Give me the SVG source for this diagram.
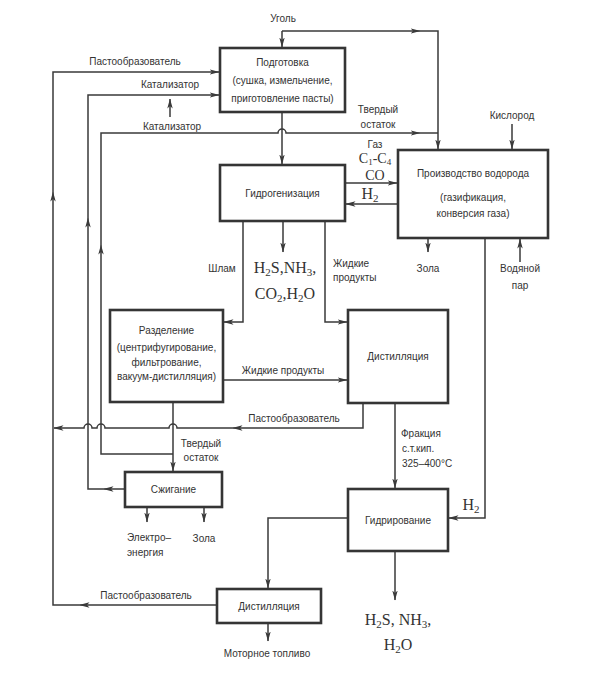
<svg xmlns="http://www.w3.org/2000/svg" width="596" height="676" viewBox="0 0 596 676">
<style>
.bg{fill:#fff}
.box{fill:#fff;stroke:#353535;stroke-width:2.6}
.ln{fill:none;stroke:#3a3a3a;stroke-width:1.5}
.ar{marker-end:url(#ah)}
.t{font-family:"Liberation Sans",Arial,sans-serif;font-size:10px;fill:#333;text-anchor:middle}
.l{text-anchor:start}
.f{font-family:"Liberation Serif","Times New Roman",serif;font-size:16px;fill:#333;text-anchor:middle}
.g{font-size:14px}
.s{font-size:11px}
.ss{font-size:9px}
</style>
<defs>
<marker id="ah" viewBox="0 0 10 6" refX="9.5" refY="3" markerWidth="10" markerHeight="6" orient="auto" markerUnits="userSpaceOnUse">
<path d="M0,0.3 L10,3 L0,5.7 L2.5,3 Z" fill="#3a3a3a"/>
</marker>
</defs>
<rect class="bg" x="0" y="0" width="596" height="676"/>

<g id="connectors">
<path class="ln ar" d="M282,31 L282,47"/>
<path class="ln ar" d="M282,31 L420,31"/>
<path class="ln ar" d="M420,31 L438,31 L438,149"/>
<path class="ln ar" d="M217,605 L80,605"/>
<path class="ln ar" d="M80,605 L53,605 L53,192"/>
<path class="ln ar" d="M53,192 L53,72 L219,72"/>
<path class="ln ar" d="M125,489 L104,489"/>
<path class="ln ar" d="M104,489 L88,489 L88,218"/>
<path class="ln ar" d="M88,218 L88,95 L219,95"/>
<path class="ln ar" d="M170,117 L170,99"/>
<path class="ln ar" d="M173,402 L173,471"/>
<path class="ln ar" d="M173,454 L101,454 L101,245"/>
<path class="ln ar" d="M101,245 L101,133 L278,133 A4,4 0 0 1 286,133 L420,133"/>
<path class="ln" d="M420,133 L438,133"/>
<path class="ln ar" d="M363,403 L363,428 L233,428"/>
<path class="ln ar" d="M233,428 L177,428 A4,4 0 0 0 169,428 L105,428 A4,4 0 0 0 97,428 L92,428 A4,4 0 0 0 84,428 L54,428"/>
<path class="ln ar" d="M282,112 L282,164"/>
<path class="ln ar" d="M345,183 L397,183"/>
<path class="ln ar" d="M398,204 L346,204"/>
<path class="ln ar" d="M512,124 L512,149"/>
<path class="ln ar" d="M428,238 L428,252"/>
<path class="ln ar" d="M520,262 L520,239"/>
<path class="ln ar" d="M485,238 L485,518 L449,518"/>
<path class="ln ar" d="M243,221 L243,322 L224,322"/>
<path class="ln ar" d="M283,221 L283,252"/>
<path class="ln ar" d="M325,221 L325,322 L347,322"/>
<path class="ln ar" d="M223,380 L347,380"/>
<path class="ln ar" d="M395,403 L395,488"/>
<path class="ln ar" d="M395,551 L395,600"/>
<path class="ln ar" d="M348,518 L268,518 L268,588"/>
<path class="ln ar" d="M268,623 L268,641"/>
<path class="ln ar" d="M147,507 L147,522"/>
<path class="ln ar" d="M204,507 L204,522"/>
</g>

<g id="n-podgotovka">
<rect class="box" x="220" y="48" width="125" height="64"/>
<text class="t" x="282.5" y="66">Подготовка</text>
<text class="t" x="282.5" y="84">(сушка, измельчение,</text>
<text class="t" x="282.5" y="102">приготовление пасты)</text>
</g>
<g id="n-gidrogenizaciya">
<rect class="box" x="220" y="165" width="125" height="56"/>
<text class="t" x="282.5" y="197">Гидрогенизация</text>
</g>
<g id="n-proizvodstvo">
<rect class="box" x="398" y="150" width="150" height="88"/>
<text class="t" x="473" y="177">Производство водорода</text>
<text class="t" x="473" y="201">(газификация,</text>
<text class="t" x="473" y="217">конверсия газа)</text>
</g>
<g id="n-razdelenie">
<rect class="box" x="110" y="310" width="113" height="92"/>
<text class="t" x="166.5" y="334">Разделение</text>
<text class="t" x="166.5" y="351">(центрифугирование,</text>
<text class="t" x="166.5" y="366">фильтрование,</text>
<text class="t" x="166.5" y="380">вакуум-дистилляция)</text>
</g>
<g id="n-distillyaciya1">
<rect class="box" x="348" y="310" width="100" height="93"/>
<text class="t" x="398" y="360">Дистилляция</text>
</g>
<g id="n-szhiganie">
<rect class="box" x="125" y="472" width="97" height="35"/>
<text class="t" x="173.5" y="493">Сжигание</text>
</g>
<g id="n-gidrirovanie">
<rect class="box" x="348" y="489" width="100" height="62"/>
<text class="t" x="398" y="524">Гидрирование</text>
</g>
<g id="n-distillyaciya2">
<rect class="box" x="217" y="589" width="104" height="34"/>
<text class="t" x="269" y="610">Дистилляция</text>
</g>

<g id="labels">
<text class="t" x="283" y="22">Уголь</text>
<text class="t" x="135" y="65">Пастообразователь</text>
<text class="t" x="170" y="88">Катализатор</text>
<text class="t" x="172" y="130">Катализатор</text>
<text class="t" x="378" y="113">Твердый</text>
<text class="t" x="378" y="128">остаток</text>
<text class="t" x="512" y="119">Кислород</text>
<text class="t" x="375" y="148">Газ</text>
<text class="f g" x="375" y="163">C<tspan class="ss" dy="2">1</tspan><tspan dy="-2">-C</tspan><tspan class="ss" dy="2">4</tspan></text>
<text class="f g" x="375" y="180">CO</text>
<text class="f" x="370" y="199">H<tspan class="s" dy="3">2</tspan></text>
<text class="t" x="428" y="272">Зола</text>
<text class="t" x="520" y="272">Водяной</text>
<text class="t" x="520" y="289">пар</text>
<text class="t" x="222" y="272">Шлам</text>
<text class="f" x="285" y="273">H<tspan class="s" dy="3">2</tspan><tspan dy="-3">S,NH</tspan><tspan class="s" dy="3">3</tspan><tspan dy="-3">,</tspan></text>
<text class="f" x="285" y="299">CO<tspan class="s" dy="3">2</tspan><tspan dy="-3">,H</tspan><tspan class="s" dy="3">2</tspan><tspan dy="-3">O</tspan></text>
<text class="t l" x="333" y="267">Жидкие</text>
<text class="t l" x="333" y="281">продукты</text>
<text class="t" x="283" y="374">Жидкие продукты</text>
<text class="t" x="294" y="422">Пастообразователь</text>
<text class="t" x="201" y="447">Твердый</text>
<text class="t" x="201" y="461">остаток</text>
<text class="t l" x="401" y="437">Фракция</text>
<text class="t l" x="402" y="452">с.т.кип.</text>
<text class="t l" x="402" y="467">325–400°C</text>
<text class="t l" x="127" y="541">Электро–</text>
<text class="t l" x="127" y="556">энергия</text>
<text class="t" x="204" y="542">Зола</text>
<text class="f" x="471" y="510">H<tspan class="s" dy="3">2</tspan></text>
<text class="t" x="146" y="599">Пастообразователь</text>
<text class="t" x="267" y="657">Моторное топливо</text>
<text class="f" x="398" y="625">H<tspan class="s" dy="3">2</tspan><tspan dy="-3">S, NH</tspan><tspan class="s" dy="3">3</tspan><tspan dy="-3">,</tspan></text>
<text class="f" x="398" y="650">H<tspan class="s" dy="3">2</tspan><tspan dy="-3">O</tspan></text>
</g>
</svg>
